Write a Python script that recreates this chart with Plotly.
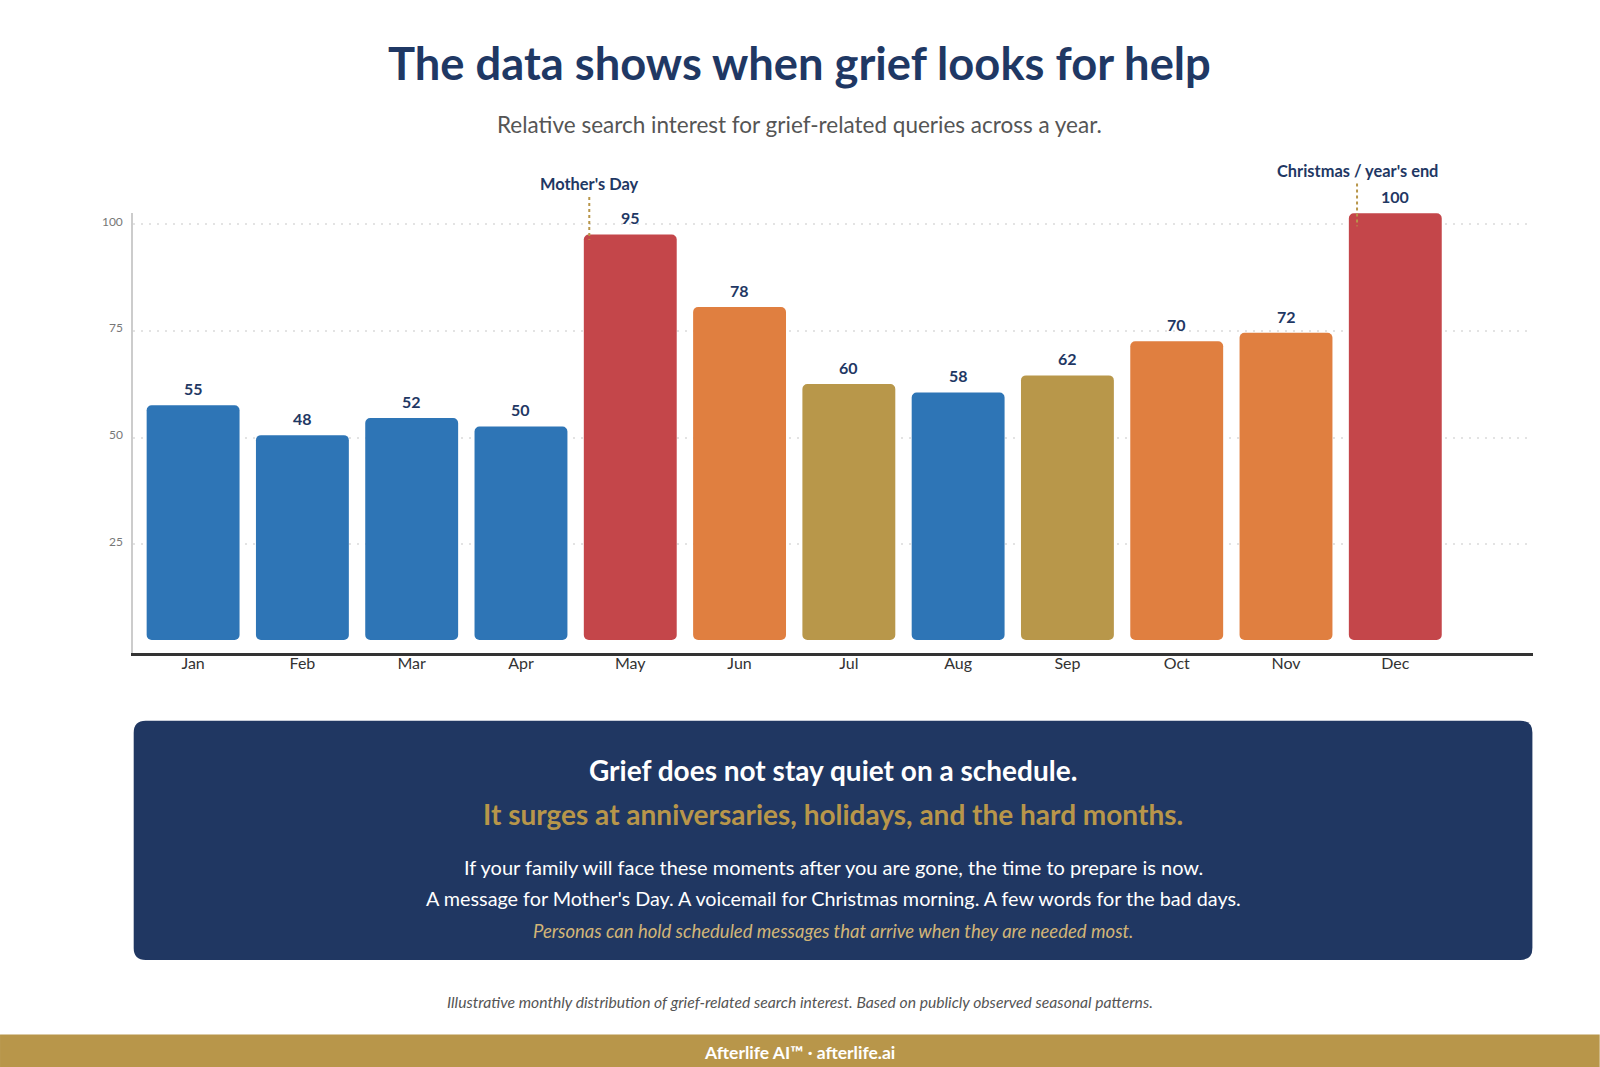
import plotly.graph_objects as go

# ---------------- data ----------------
MONTHS = ["Jan", "Feb", "Mar", "Apr", "May", "Jun", "Jul", "Aug", "Sep", "Oct", "Nov", "Dec"]
VALUES = [55, 48, 52, 50, 95, 78, 60, 58, 62, 70, 72, 100]
BAR_COLORS = ["#2E75B6", "#2E75B6", "#2E75B6", "#2E75B6", "#C4464A", "#E07F40",
              "#B8974A", "#2E75B6", "#B8974A", "#E07F40", "#E07F40", "#C4464A"]
Y_TICKS = [25, 50, 75, 100]
EVENT_MONTHS = ["May", "Dec"]
EVENT_LABELS = ["Mother's Day", "Christmas / year's end"]

TITLE = "The data shows when grief looks for help"
SUBTITLE = "Relative search interest for grief-related queries across a year."
BOX_LINE1 = "Grief does not stay quiet on a schedule."
BOX_LINE2 = "It surges at anniversaries, holidays, and the hard months."
BOX_LINE3 = "If your family will face these moments after you are gone, the time to prepare is now."
BOX_LINE4 = "A message for Mother's Day. A voicemail for Christmas morning. A few words for the bad days."
BOX_LINE5 = "Personas can hold scheduled messages that arrive when they are needed most."
FOOTNOTE = "Illustrative monthly distribution of grief-related search interest. Based on publicly observed seasonal patterns."
FOOTER = "Afterlife AI\u2122 \u00b7 afterlife.ai"

# ---------------- style / layout ----------------
W, H = 1600, 1067
NAVY = "#1F3864"
GOLD = "#B8964A"
FONT = "Lato"
BAR_BASE = 2.6
Y_RANGE = [-0.45, 102.65]
X_RANGE = [-0.55, 12.26]
M_L, M_R, M_T, M_B = 133, 66.7, 213.3, 414.3
PLOT_W = W - M_L - M_R
PLOT_H = H - M_T - M_B
PLOT_BOTTOM = H - M_B
EVENT_XOFFSET = [-0.375, -0.35]
EVENT_LIFT = [51, 43]          # px from bar top to label centre
EVENT_LINE_GAP = 13.4          # px from label centre to line start
EVENT_LINE_LEN = 42.7


def py(pix):  # page pixel y -> paper y
    return (PLOT_BOTTOM - pix) / PLOT_H


def px(pix):  # page pixel x -> paper x
    return (pix - M_L) / PLOT_W


def val_pix(v):  # data value -> page pixel y
    return PLOT_BOTTOM - (v - Y_RANGE[0]) / (Y_RANGE[1] - Y_RANGE[0]) * PLOT_H


fig = go.Figure()
fig.add_trace(go.Bar(
    x=MONTHS, y=VALUES, base=[BAR_BASE] * len(VALUES),
    marker=dict(color=BAR_COLORS, line=dict(width=0), cornerradius=5),
    hoverinfo="skip", showlegend=False,
))

annotations = []
shapes = []

# value labels
for m, v in zip(MONTHS, VALUES):
    annotations.append(dict(
        x=m, y=BAR_BASE + v, xref="x", yref="y", text=f"<b>{v}</b>", showarrow=False,
        yanchor="middle", yshift=16.7, font=dict(family=FONT, size=16, color=NAVY)))

# event annotations
for m, lab, dx, lift in zip(EVENT_MONTHS, EVENT_LABELS, EVENT_XOFFSET, EVENT_LIFT):
    i = MONTHS.index(m)
    v = VALUES[i]
    top_pix = val_pix(BAR_BASE + v)
    lab_pix = top_pix - lift
    annotations.append(dict(
        x=i + dx, y=py(lab_pix), xref="x", yref="paper", text=f"<b>{lab}</b>",
        showarrow=False, yanchor="middle", xanchor="center",
        font=dict(family=FONT, size=16.4, color=NAVY)))
    shapes.append(dict(
        type="line", xref="x", yref="paper", x0=i + dx, x1=i + dx,
        y0=py(lab_pix + EVENT_LINE_GAP), y1=py(lab_pix + EVENT_LINE_GAP + EVENT_LINE_LEN),
        line=dict(color=GOLD, width=2, dash="3px,3px"), layer="above"))

# title & subtitle
annotations.append(dict(x=px(800), y=py(63.5), xref="paper", yref="paper", showarrow=False,
                        text=f"<b>{TITLE}</b>", yanchor="middle",
                        font=dict(family=FONT, size=45.3, color=NAVY)))
annotations.append(dict(x=px(800), y=py(124.5), xref="paper", yref="paper", showarrow=False,
                        text=SUBTITLE, yanchor="middle",
                        font=dict(family=FONT, size=22.5, color="#555555")))

# navy message box with rounded corners
bx0, bx1, by0, by1, r = 133.7, 1532.7, 720.4, 959.2, 12
path = (f"M {px(bx0 + r)},{py(by0)} L {px(bx1 - r)},{py(by0)} "
        f"Q {px(bx1)},{py(by0)} {px(bx1)},{py(by0 + r)} "
        f"L {px(bx1)},{py(by1 - r)} Q {px(bx1)},{py(by1)} {px(bx1 - r)},{py(by1)} "
        f"L {px(bx0 + r)},{py(by1)} Q {px(bx0)},{py(by1)} {px(bx0)},{py(by1 - r)} "
        f"L {px(bx0)},{py(by0 + r)} Q {px(bx0)},{py(by0)} {px(bx0 + r)},{py(by0)} Z")
shapes.append(dict(type="path", xref="paper", yref="paper", path=path,
                   fillcolor="#203762", line=dict(width=0), layer="below"))

bcx = (bx0 + bx1) / 2
box_texts = [
    (BOX_LINE1, 769.4, 28, "#FFFFFF", True, False),
    (BOX_LINE2, 813.3, 28, GOLD, True, False),
    (BOX_LINE3, 866.3, 20, "#FFFFFF", False, False),
    (BOX_LINE4, 897.0, 19.8, "#FFFFFF", False, False),
    (BOX_LINE5, 930.6, 18.5, "#D2B577", False, True),
]
for t, yy, sz, col, bold, ital in box_texts:
    txt = t
    if bold:
        txt = f"<b>{txt}</b>"
    if ital:
        txt = f"<i>{txt}</i>"
    annotations.append(dict(x=px(bcx), y=py(yy), xref="paper", yref="paper", showarrow=False,
                            text=txt, yanchor="middle",
                            font=dict(family=FONT, size=sz, color=col)))

# footnote
annotations.append(dict(x=px(800), y=py(1001), xref="paper", yref="paper", showarrow=False,
                        text=f"<i>{FOOTNOTE}</i>", yanchor="middle",
                        font=dict(family=FONT, size=15.7, color="#555555")))

# footer band
shapes.append(dict(type="rect", xref="paper", yref="paper", x0=px(0), x1=px(W),
                   y0=py(1033.7), y1=py(H + 2), fillcolor=GOLD, line=dict(width=0), layer="below"))
annotations.append(dict(x=px(800), y=py(1051.5), xref="paper", yref="paper", showarrow=False,
                        text=f"<b>{FOOTER}</b>", yanchor="middle",
                        font=dict(family=FONT, size=17.5, color="#FFFFFF")))

fig.update_layout(
    width=W, height=H, autosize=False,
    margin=dict(l=M_L, r=M_R, t=M_T, b=M_B, pad=0),
    paper_bgcolor="#FFFFFF", plot_bgcolor="#FFFFFF",
    bargap=0.15,
    font=dict(family=FONT),
    annotations=annotations, shapes=shapes,
    xaxis=dict(range=X_RANGE, showgrid=False, showline=True, linecolor="#333333", linewidth=2.5,
               ticks="", ticklabelstandoff=-6,
               tickfont=dict(family=FONT, size=16, color="#333333"), zeroline=False,
               fixedrange=True),
    yaxis=dict(range=Y_RANGE, tickvals=Y_TICKS, showgrid=True, gridcolor="#E3E3E3", gridwidth=1.5,
               griddash="2px,6px", showline=True, linecolor="#CCCCCC", linewidth=1.5, zeroline=False,
               ticks="", ticklabelstandoff=6, ticklabelshift=-3,
               tickfont=dict(family=FONT, size=12, color="#777777"),
               fixedrange=True),
)

fig.write_html("out.html")
